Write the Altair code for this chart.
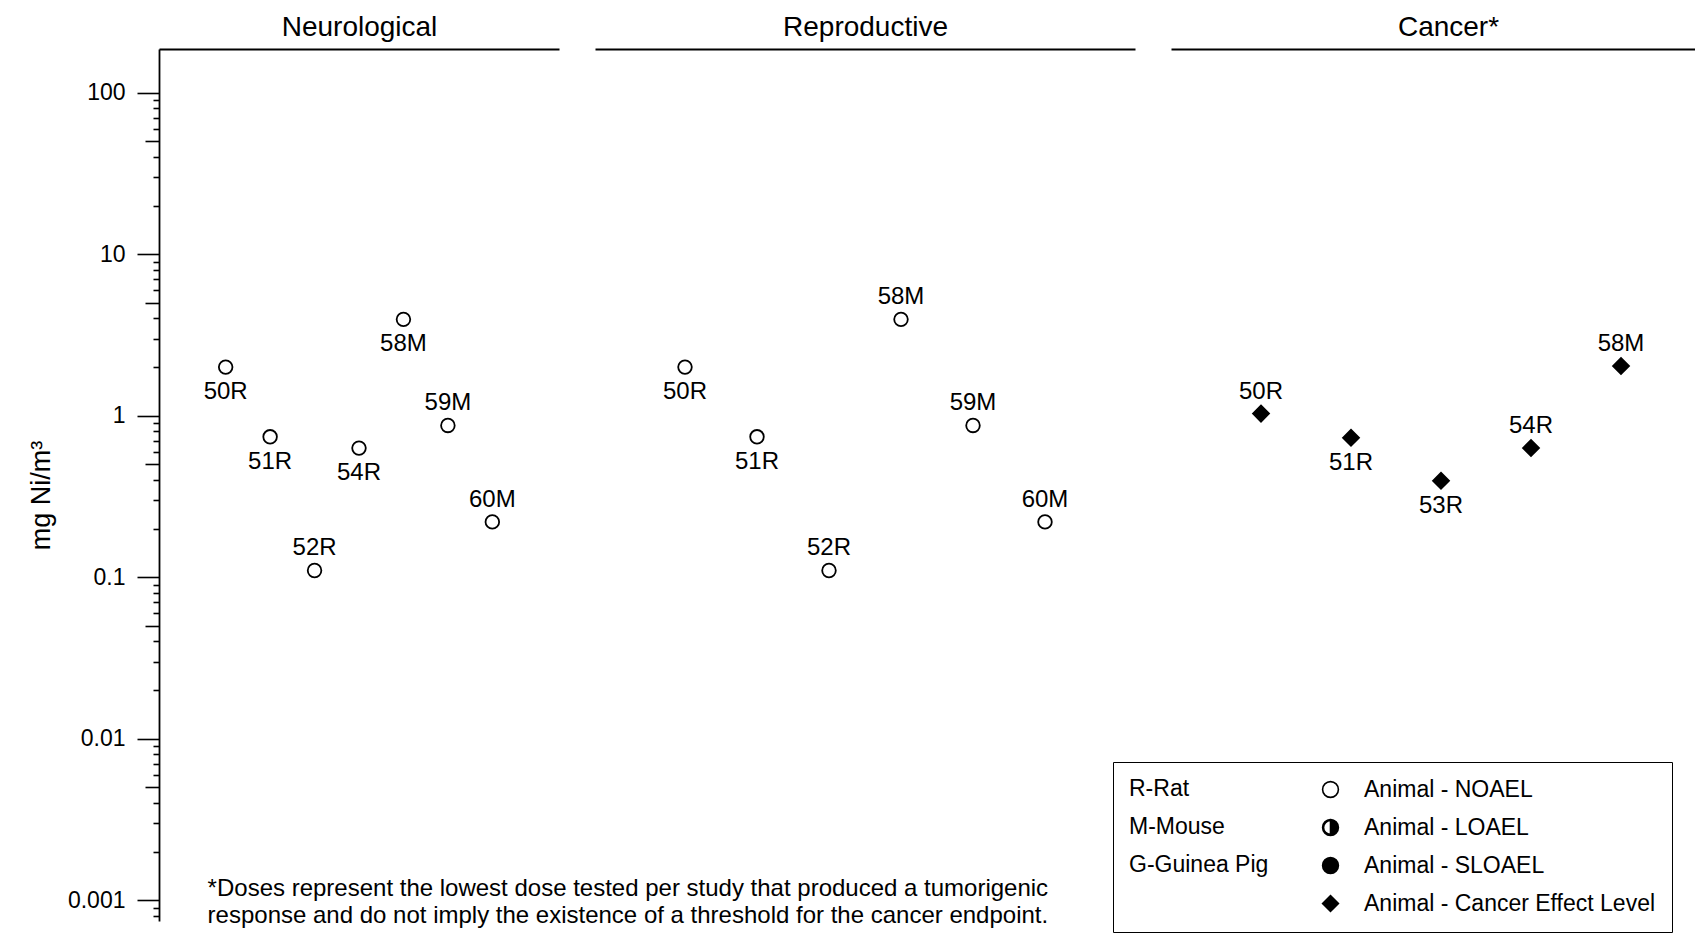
import altair as alt
import pandas as pd

FONT = "Liberation Sans"

# ---------------- data ----------------
neuro_ids = ["50R", "51R", "52R", "54R", "58M", "59M", "60M"]
neuro_vals = [2.0, 0.74, 0.11, 0.63, 3.95, 0.87, 0.22]
neuro_pos = ["below", "below", "above", "below", "below", "above", "above"]

repro_ids = ["50R", "51R", "52R", "58M", "59M", "60M"]
repro_vals = [2.0, 0.74, 0.11, 3.95, 0.87, 0.22]
repro_pos = ["below", "below", "above", "above", "above", "above"]

cancer_ids = ["50R", "51R", "53R", "54R", "58M"]
cancer_vals = [1.03, 0.73, 0.395, 0.63, 2.03]
cancer_pos = ["above", "below", "below", "above", "above"]

panel_titles = ["Neurological", "Reproductive", "Cancer*"]

effect_types = ["Animal - NOAEL", "Animal - LOAEL", "Animal - SLOAEL",
                "Animal - Cancer Effect Level"]
species_key = ["R-Rat", "M-Mouse", "G-Guinea Pig"]

footnote_lines = [
    "*Doses represent the lowest dose tested per study that produced a tumorigenic",
    "response and do not imply the existence of a threshold for the cancer endpoint.",
]
footnote_anchor = (0.594, 0.00118)  # data coordinates of first panel

y_title = "mg Ni/m³"
major_ticks = [0.001, 0.01, 0.1, 1, 10, 100]
medium_ticks = [0.005, 0.05, 0.5, 5, 50]
minor_ticks = [0.0008, 0.0009,
               0.002, 0.003, 0.004, 0.006, 0.007, 0.008, 0.009,
               0.02, 0.03, 0.04, 0.06, 0.07, 0.08, 0.09,
               0.2, 0.3, 0.4, 0.6, 0.7, 0.8, 0.9,
               2, 3, 4, 6, 7, 8, 9,
               20, 30, 40, 60, 70, 80, 90]

# ---------------- styling ----------------
Y_DOMAIN = [0.000743, 186.5]
PLOT_H = 872
K = 0.5523
HALF = (f"M0,-1 C{K},-1 1,-{K} 1,0 C1,{K} {K},1 0,1 Z "
        f"M0,-1 C-{K},-1 -1,-{K} -1,0 C-1,{K} -{K},1 0,1 "
        f"L0,0.88 C-{K*0.88:.4f},0.88 -0.88,{K*0.88:.4f} -0.88,0 "
        f"C-0.88,-{K*0.88:.4f} -{K*0.88:.4f},-0.88 0,-0.88 Z")
effect_shapes = ["circle", HALF, "circle", "diamond"]
effect_fills = ["white", "black", "black", "black"]
effect_strokes = ["black", "black", "black", "black"]

PAD_L, PAD_T = 19, 5
PLOT_LEFT, PLOT_TOP = 160, 49
LEGEND_X = 1114 - PLOT_LEFT
LEGEND_Y = 762 - PLOT_TOP

legend = alt.Legend(
    orient="none", legendX=LEGEND_X, legendY=LEGEND_Y,
    title=species_key, titleOrient="left", titleAnchor="start",
    titleBaseline="top", titleFont=FONT, titleFontSize=23,
    titleFontWeight="normal", titleColor="black", titleLineHeight=38,
    titlePadding=50, titleLimit=400,
    labelFont=FONT, labelFontSize=23, labelColor="black", labelLimit=500,
    labelOffset=22, symbolSize=250, symbolStrokeWidth=1.6, rowPadding=14,
    padding=16, strokeColor="black", fillColor="white",
)
shape_enc = alt.Shape("effect:N", scale=alt.Scale(domain=effect_types, range=effect_shapes),
                      legend=legend)
fill_enc = alt.Fill("effect:N", scale=alt.Scale(domain=effect_types, range=effect_fills),
                    legend=legend)
stroke_enc = alt.Stroke("effect:N", scale=alt.Scale(domain=effect_types, range=effect_strokes),
                        legend=legend)


def yscale():
    return alt.Scale(type="log", domain=Y_DOMAIN, nice=False)


def tick_axis(values, size, labels=False, domain=False, title=None):
    kw = dict(orient="left", values=values, tickSize=size, tickWidth=1.6,
              tickColor="black", grid=False, domain=domain, labels=labels)
    if labels:
        kw.update(labelExpr="format(datum.value, '~g')", labelFont=FONT,
                  labelFontSize=23, labelColor="black", labelPadding=12,
                  labelOverlap=False, labelFlush=False)
    if domain:
        kw.update(domainColor="black", domainWidth=1.8)
    if title:
        kw.update(title=title, titleFont=FONT, titleFontSize=27,
                  titleFontWeight="normal", titleColor="black", titlePadding=12,
                  titleY=446)
    else:
        kw.update(title=None)
    return alt.Axis(**kw)


def panel(ids, vals, pos, effect, title, width, xdom, size, first=False, title_x=None):
    df = pd.DataFrame({"x": list(range(1, len(ids) + 1)), "id": ids,
                       "value": vals, "pos": pos, "effect": effect})
    base = alt.Chart(df)
    xs = alt.Scale(domain=xdom, nice=False, zero=False)
    ax_kw = dict(orient="top", ticks=False, labels=False, grid=False,
                 domainColor="black", domainWidth=1.8, title=title,
                 titleFont=FONT, titleFontSize=28, titleFontWeight="normal",
                 titleColor="black", titlePadding=8)
    if title_x is not None:
        ax_kw.update(titleX=title_x, titleAlign="center")
    x = alt.X("x:Q", scale=xs, axis=alt.Axis(**ax_kw))
    y_main = alt.Y("value:Q", scale=yscale(),
                   axis=tick_axis(major_ticks, 22, labels=True, domain=True, title=y_title)
                   if first else None)
    y_plain = alt.Y("value:Q", scale=yscale(), axis=None)
    pts = base.mark_point(filled=True, strokeWidth=1.8, size=size, opacity=1).encode(
        x=x, y=y_main, shape=shape_enc, fill=fill_enc, stroke=stroke_enc)
    above = base.transform_filter(alt.datum.pos == "above").mark_text(
        dy=-22, fontSize=24, font=FONT, color="black").encode(x=x, y=y_plain, text="id:N")
    below = base.transform_filter(alt.datum.pos == "below").mark_text(
        dy=25, fontSize=24, font=FONT, color="black").encode(x=x, y=y_plain, text="id:N")
    layers = [pts, above, below]
    if first:
        note = base.transform_filter(alt.datum.x == 1).mark_text(
            align="left", baseline="middle", fontSize=24, font=FONT, color="black",
            lineHeight=27).encode(
            x=alt.X(datum=footnote_anchor[0], scale=xs),
            y=alt.Y(datum=footnote_anchor[1], scale=yscale(), axis=None),
            text=alt.value(footnote_lines))
        mid = base.mark_point(opacity=0).encode(
            x=x, y=alt.Y("value:Q", scale=yscale(), axis=tick_axis(medium_ticks, 14)))
        minor = base.mark_point(opacity=0).encode(
            x=x, y=alt.Y("value:Q", scale=yscale(), axis=tick_axis(minor_ticks, 6)))
        layers += [note, mid, minor]
        return alt.layer(*layers).resolve_scale(y="independent").properties(
            width=width, height=PLOT_H)
    return alt.layer(*layers).properties(width=width, height=PLOT_H)


p1 = panel(neuro_ids, neuro_vals, neuro_pos, effect_types[0], panel_titles[0],
           400, [-0.5, 8.5], 185, first=True)
p2 = panel(repro_ids, repro_vals, repro_pos, effect_types[0], panel_titles[1],
           540, [-0.25, 7.25], 185)
p3 = panel(cancer_ids, cancer_vals, cancer_pos, effect_types[3], panel_titles[2],
           524, [0, 6 * 524 / 540], 256, title_x=277)

chart = alt.hconcat(p1, p2, p3, spacing=36, bounds="flush").properties(
    padding={"left": PAD_L, "top": PAD_T, "right": 0, "bottom": 0}
).configure_view(stroke=None)

chart.save("out.html", embed_options={"renderer": "svg", "actions": False})
